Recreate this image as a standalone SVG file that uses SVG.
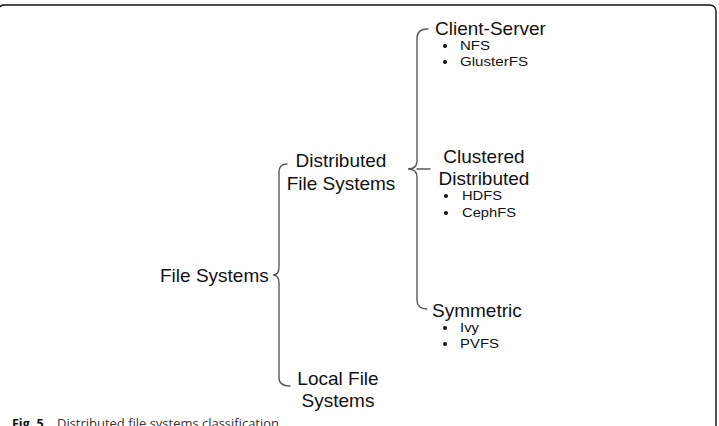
<svg xmlns="http://www.w3.org/2000/svg" width="719" height="426" viewBox="0 0 719 426">
<style>
.t{font-family:"Liberation Sans",Arial,sans-serif;font-size:19px;fill:#111}
.b{font-family:"Liberation Sans",Arial,sans-serif;font-size:13.5px;fill:#111}
.dot{fill:#111}
.br{fill:none;stroke:#5a5a5a;stroke-width:1.4;stroke-linecap:round}
.cap{font-family:"Open Sans","Liberation Sans",sans-serif;font-size:12.5px}
</style>
<rect x="-2" y="5" width="718" height="600" rx="6" fill="#fff" stroke="#111" stroke-width="1.4"/>
<g id="connectors">
<path class="br" d="M287,164 Q279,164 279,172 L279,267 Q279,275 273,275 Q279,275 279,283 L279,378 Q279,386 290,386"/>
<path class="br" d="M428,29 Q417,29 417,38 L417,161 Q417,169 408,169 Q417,169 417,177 L417,300 Q417,309 427,309"/>
<line class="br" x1="417" y1="169" x2="430" y2="169"/>
</g>
<g id="file-systems"><text class="t" x="160" y="282">File Systems</text></g>
<g id="distributed"><text class="t" x="341" y="167" text-anchor="middle">Distributed</text><text class="t" x="341" y="190" text-anchor="middle">File Systems</text></g>
<g id="local"><text class="t" x="338" y="385" text-anchor="middle">Local File</text><text class="t" x="338" y="407" text-anchor="middle">Systems</text></g>
<g id="client-server">
<text class="t" x="435" y="35">Client-Server</text>
<circle class="dot" cx="445" cy="46" r="2"/><text class="b" x="460" y="50" textLength="30" lengthAdjust="spacingAndGlyphs">NFS</text>
<circle class="dot" cx="445" cy="62" r="2"/><text class="b" x="460" y="66" textLength="68" lengthAdjust="spacingAndGlyphs">GlusterFS</text>
</g>
<g id="clustered">
<text class="t" x="484" y="163" text-anchor="middle">Clustered</text>
<text class="t" x="484" y="185" text-anchor="middle">Distributed</text>
<circle class="dot" cx="446" cy="196" r="2"/><text class="b" x="462" y="200" textLength="40" lengthAdjust="spacingAndGlyphs">HDFS</text>
<circle class="dot" cx="446" cy="213" r="2"/><text class="b" x="462" y="217" textLength="54" lengthAdjust="spacingAndGlyphs">CephFS</text>
</g>
<g id="symmetric">
<text class="t" x="432" y="317">Symmetric</text>
<circle class="dot" cx="445" cy="328" r="2"/><text class="b" x="460" y="332" textLength="19" lengthAdjust="spacingAndGlyphs">Ivy</text>
<circle class="dot" cx="445" cy="344" r="2"/><text class="b" x="460" y="348" textLength="39" lengthAdjust="spacingAndGlyphs">PVFS</text>
</g>
<g id="caption"><text class="cap" x="12" y="428"><tspan font-weight="bold" fill="#111">Fig. 5</tspan><tspan x="57" fill="#333" textLength="222" lengthAdjust="spacingAndGlyphs">Distributed file systems classification</tspan></text></g>
</svg>
